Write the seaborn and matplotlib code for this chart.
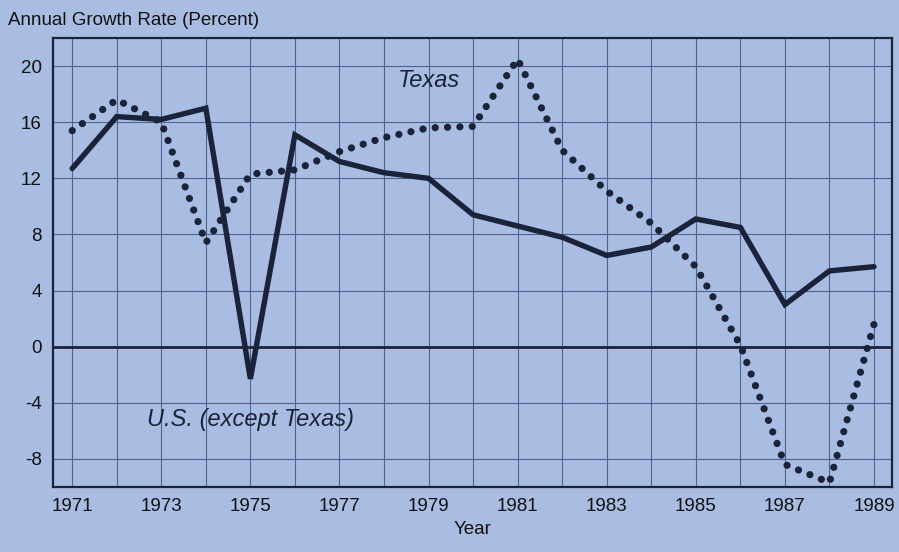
import matplotlib
matplotlib.use("Agg")
import matplotlib.pyplot as plt
import seaborn as sns
import numpy as np
import pandas as pd

years = list(range(1971, 1990))
us_except_texas = [12.7, 16.4, 16.2, 17.0, -2.3, 15.1, 13.2, 12.4, 12.0, 9.4,
                   8.6, 7.8, 6.5, 7.1, 9.1, 8.5, 3.0, 5.4, 5.7]
texas = [15.4, 17.6, 16.0, 7.4, 12.3, 12.6, 13.9, 14.9, 15.6, 15.7,
         20.5, 14.0, 11.1, 8.8, 5.7, 0.1, -8.4, -9.7, 1.6]
x_ticks = [1971, 1973, 1975, 1977, 1979, 1981, 1983, 1985, 1987, 1989]
y_ticks = [-8, -4, 0, 4, 8, 12, 16, 20]

bg = "#a9bde2"
ink = "#1b2338"
grid = "#52628e"
txt = "#111111"

df = pd.DataFrame({"Year": years, "US": us_except_texas, "Texas": texas})

sns.set_style("white")
plt.rcParams["font.family"] = ["Liberation Sans", "DejaVu Sans"]
plt.rcParams["axes.unicode_minus"] = False

fig = plt.figure(figsize=(8.99, 5.52), dpi=100, facecolor=bg)
ax = fig.add_axes([0.059, 0.118, 0.933, 0.813])
ax.set_facecolor(bg)

# grid: every year vertically, every 4 points horizontally
for yr in years:
    ax.axvline(yr, color=grid, lw=0.8, zorder=1)
for v in y_ticks:
    ax.axhline(v, color=grid, lw=0.8, zorder=1)
ax.axhline(0, color=ink, lw=2.0, zorder=1)

sns.lineplot(data=df, x="Year", y="Texas", ax=ax, color=ink, lw=5.2,
             linestyle=(0, (0.01, 1.7)), dash_capstyle="round", zorder=3)
sns.lineplot(data=df, x="Year", y="US", ax=ax, color=ink, lw=3.9,
             solid_joinstyle="miter", zorder=4)

ax.set_xlim(1970.57, 1989.4)
ax.set_ylim(-10, 22)
ax.set_xticks(x_ticks)
ax.set_xticklabels([str(t) for t in x_ticks])
ax.set_yticks(y_ticks)
ax.set_yticks(np.arange(-10, 22, 2), minor=True)
ax.tick_params(axis="both", which="major", length=0, labelsize=13.5,
               colors=txt, pad=8)
ax.tick_params(axis="y", which="minor", direction="in", length=5,
               color=ink, width=1)
ax.tick_params(axis="x", which="minor", length=0)

for s in ax.spines.values():
    s.set_color(ink)
    s.set_linewidth(1.6)

ax.set_xlabel("Year", fontsize=13.5, color=txt, labelpad=4)
ax.set_ylabel("")
fig.text(0.009, 0.962, "Annual Growth Rate (Percent)", fontsize=13.5,
         color=txt, ha="left", va="center")

ax.text(1979.0, 19.0, "Texas", fontsize=17, style="italic", color=ink,
        ha="center", va="center")
ax.text(1975.0, -5.2, "U.S. (except Texas)", fontsize=17, style="italic",
        color=ink, ha="center", va="center")

fig.savefig("out.png", dpi=100, facecolor=bg)
